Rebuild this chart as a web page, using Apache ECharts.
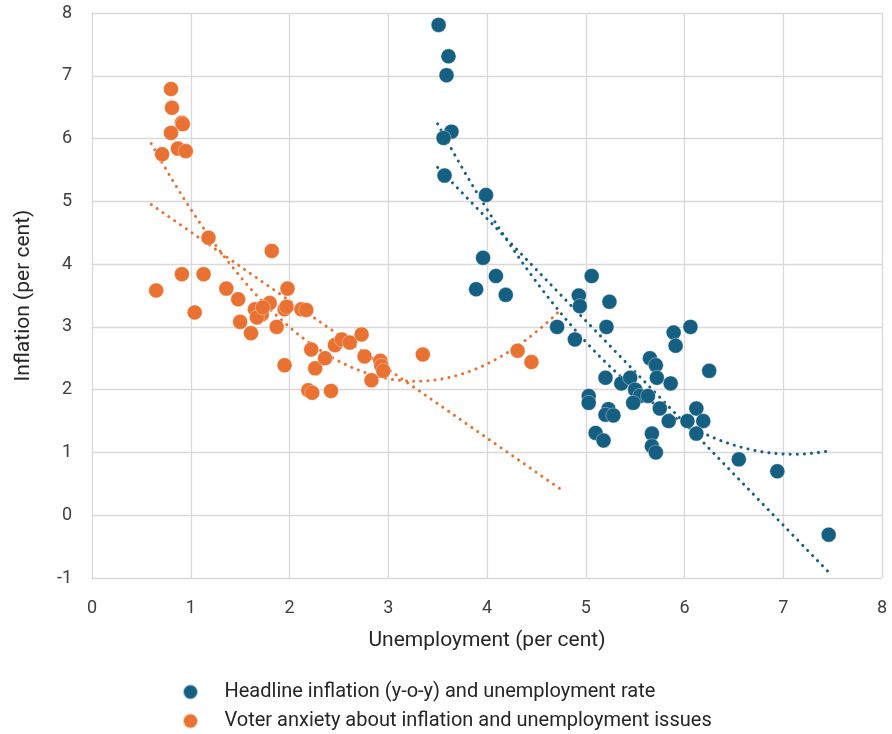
<!DOCTYPE html>
<html>
<head>
<meta charset="utf-8">
<script src="https://cdn.jsdelivr.net/npm/echarts@6/dist/echarts.min.js"></script>
<style>
  html, body { margin: 0; padding: 0; background: #ffffff; }
  #chart { width: 892px; height: 734px; }
</style>
</head>
<body>
<div id="chart"></div>
<script>
// Headline inflation (y-o-y, %) against the unemployment rate (%)
const headlineUnemployment = [
  3.51, 3.61, 3.59, 3.64, 3.56, 3.57, 3.99, 3.96, 4.09, 3.89, 4.19,
  5.06, 4.93, 4.94, 5.24, 4.71, 5.21, 4.89,
  6.06, 5.89, 5.91, 6.25, 5.65, 5.71, 5.72, 5.86,
  5.20, 5.36, 5.45, 5.50, 5.55, 5.63, 5.48, 5.75, 5.84, 6.03, 6.12, 6.19, 6.12,
  5.03, 5.03, 5.23, 5.20, 5.28, 5.10, 5.18, 5.67, 5.67, 5.71,
  6.55, 6.94, 7.46
];
const headlineInflation = [
  7.81, 7.31, 7.01, 6.11, 6.01, 5.41, 5.10, 4.10, 3.81, 3.60, 3.51,
  3.81, 3.50, 3.33, 3.40, 3.00, 3.00, 2.80,
  3.00, 2.91, 2.70, 2.30, 2.50, 2.39, 2.19, 2.10,
  2.19, 2.10, 2.19, 2.00, 1.90, 1.90, 1.79, 1.70, 1.50, 1.50, 1.70, 1.50, 1.30,
  1.90, 1.79, 1.69, 1.60, 1.59, 1.31, 1.19, 1.30, 1.10, 1.00,
  0.89, 0.70, -0.31
];

// Voter anxiety about inflation and unemployment issues
const anxietyUnemployment = [
  0.80, 0.81, 0.91, 0.92, 0.80, 0.87, 0.95, 0.71,
  1.18, 1.82, 0.91, 1.13, 0.65, 1.36, 1.98, 1.48, 1.04, 1.50, 1.61, 1.87,
  1.65, 1.72, 1.80, 1.67, 1.73, 1.95, 1.97, 2.12, 2.17,
  1.95, 2.22, 2.26, 2.36, 2.19, 2.23, 2.42,
  2.46, 2.53, 2.61, 2.73, 2.76, 2.92, 2.93, 2.95, 2.83,
  3.35, 4.31, 4.45
];
const anxietyInflation = [
  6.79, 6.49, 6.25, 6.23, 6.09, 5.84, 5.80, 5.75,
  4.42, 4.21, 3.84, 3.84, 3.58, 3.61, 3.61, 3.44, 3.23, 3.08, 2.90, 3.00,
  3.28, 3.20, 3.38, 3.15, 3.31, 3.28, 3.32, 3.28, 3.27,
  2.39, 2.64, 2.34, 2.50, 1.99, 1.95, 1.98,
  2.71, 2.80, 2.75, 2.88, 2.53, 2.46, 2.38, 2.30, 2.15,
  2.56, 2.62, 2.44
];

// x-extent over which each fitted trend is drawn
const headlineFitExtent = [3.50, 7.45];
const anxietyFitExtent = [0.60, 4.75];

// Axis ticks
const xTicks = [0, 1, 2, 3, 4, 5, 6, 7, 8];
const yTicks = [-1, 0, 1, 2, 3, 4, 5, 6, 7, 8];

const HEADLINE_NAME = 'Headline inflation (y-o-y) and unemployment rate';
const ANXIETY_NAME = 'Voter anxiety about inflation and unemployment issues';

const BLUE = '#156082';
const ORANGE = '#E97132';

function pairs(xs, ys) { return xs.map((x, i) => [x, ys[i]]); }

// Least-squares polynomial fit (degree 1 or 2) via normal equations
function polyFit(xs, ys, degree) {
  const n = degree + 1;
  const A = Array.from({ length: n }, () => new Array(n + 1).fill(0));
  for (let k = 0; k < xs.length; k++) {
    const pw = [];
    for (let j = 0; j < 2 * n; j++) pw.push(Math.pow(xs[k], j));
    for (let r = 0; r < n; r++) {
      for (let c = 0; c < n; c++) A[r][c] += pw[r + c];
      A[r][n] += pw[r] * ys[k];
    }
  }
  for (let i = 0; i < n; i++) {
    let p = i;
    for (let r = i + 1; r < n; r++) if (Math.abs(A[r][i]) > Math.abs(A[p][i])) p = r;
    [A[i], A[p]] = [A[p], A[i]];
    for (let r = 0; r < n; r++) {
      if (r === i) continue;
      const f = A[r][i] / A[i][i];
      for (let c = i; c <= n; c++) A[r][c] -= f * A[i][c];
    }
  }
  return A.map((row, i) => row[n] / row[i]);
}

function fitCurve(xs, ys, degree, extent) {
  const coef = polyFit(xs, ys, degree);
  const out = [];
  const steps = 80;
  for (let s = 0; s <= steps; s++) {
    const x = extent[0] + (extent[1] - extent[0]) * s / steps;
    let y = 0;
    coef.forEach((c, j) => { y += c * Math.pow(x, j); });
    out.push([x, y]);
  }
  return out;
}

const FONT = 'Roboto, "Liberation Sans", sans-serif';

function trendSeries(data, color) {
  return {
    type: 'line',
    data: data,
    showSymbol: false,
    silent: true,
    z: 1,
    lineStyle: { color: color, width: 3, type: [0.1, 7], cap: 'round' }
  };
}

function legendRow(name, top) {
  return {
    orient: 'vertical',
    left: 177, top: top,
    itemWidth: 16, itemHeight: 15,
    data: [{ name: name, icon: 'circle' }],
    textStyle: { fontFamily: FONT, fontSize: 20, color: '#262626', padding: [0, 0, 0, 21] }
  };
}

const chart = echarts.init(document.getElementById('chart'), null, { renderer: 'canvas' });

chart.setOption({
  animation: false,
  backgroundColor: '#ffffff',
  grid: { left: 92, right: 10, top: 13, bottom: 156, containLabel: false },
  xAxis: {
    type: 'value',
    min: xTicks[0], max: xTicks[xTicks.length - 1], interval: 1,
    name: 'Unemployment (per cent)',
    nameLocation: 'middle', nameGap: 52,
    nameTextStyle: { fontFamily: FONT, fontSize: 21, color: '#262626' },
    axisLine: { show: true, lineStyle: { color: '#d9d9d9', width: 1 } },
    axisTick: { show: false },
    axisLabel: { fontFamily: FONT, fontSize: 18, color: '#404040', margin: 21 },
    splitLine: { show: true, lineStyle: { color: '#d9d9d9', width: 1.3 } }
  },
  yAxis: {
    type: 'value',
    min: yTicks[0], max: yTicks[yTicks.length - 1], interval: 1,
    name: 'Inflation (per cent)',
    nameLocation: 'middle', nameGap: 58, nameRotate: 90,
    nameTextStyle: { fontFamily: FONT, fontSize: 21, color: '#262626' },
    axisLine: { show: true, lineStyle: { color: '#d9d9d9', width: 1 } },
    axisTick: { show: false },
    axisLabel: { fontFamily: FONT, fontSize: 18, color: '#404040', margin: 20 },
    splitLine: { show: true, lineStyle: { color: '#d9d9d9', width: 1.3 } }
  },
  legend: [legendRow(HEADLINE_NAME, 677), legendRow(ANXIETY_NAME, 706)],
  series: [
    trendSeries(fitCurve(anxietyUnemployment, anxietyInflation, 1, anxietyFitExtent), ORANGE),
    trendSeries(fitCurve(anxietyUnemployment, anxietyInflation, 2, anxietyFitExtent), ORANGE),
    trendSeries(fitCurve(headlineUnemployment, headlineInflation, 1, headlineFitExtent), BLUE),
    trendSeries(fitCurve(headlineUnemployment, headlineInflation, 2, headlineFitExtent), BLUE),
    {
      name: HEADLINE_NAME,
      type: 'scatter',
      data: pairs(headlineUnemployment, headlineInflation),
      symbolSize: 15,
      z: 3,
      itemStyle: { color: BLUE, opacity: 1, borderColor: 'rgba(255,255,255,0.6)', borderWidth: 0.6 }
    },
    {
      name: ANXIETY_NAME,
      type: 'scatter',
      data: pairs(anxietyUnemployment, anxietyInflation),
      symbolSize: 15,
      z: 3,
      itemStyle: { color: ORANGE, opacity: 1, borderColor: 'rgba(255,255,255,0.6)', borderWidth: 0.6 }
    }
  ]
});
</script>
</body>
</html>
